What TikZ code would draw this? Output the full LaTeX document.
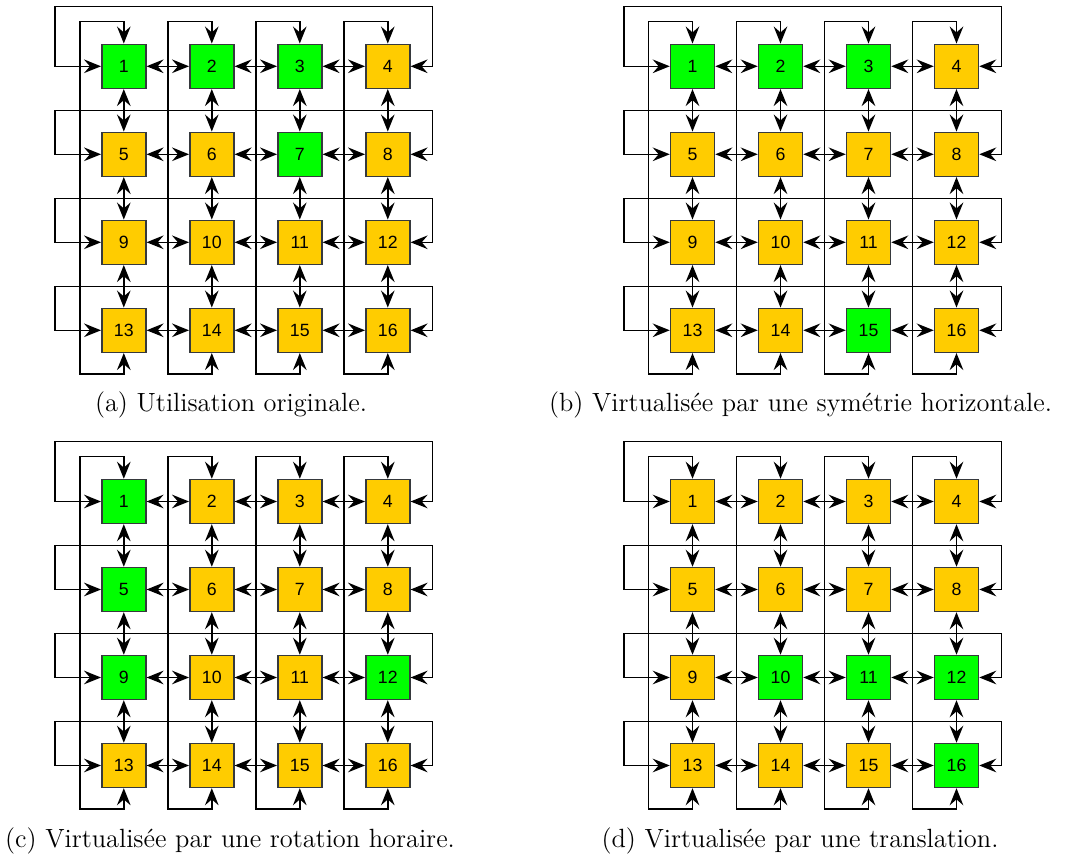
\documentclass[tikz,border=0pt]{standalone}
\usepackage{fontspec}
\newfontfamily\cellfont{Liberation Sans}
\usetikzlibrary{arrows.meta,calc,positioning}

\definecolor{ongreen}{HTML}{00FF00}
\definecolor{offorange}{HTML}{FFCC00}
\definecolor{cellline}{HTML}{36393D}

\tikzset{
  cell/.style={draw=cellline, line width=0.65pt, minimum size=19.36pt, inner sep=0pt,
    font=\cellfont\fontsize{7.8}{9}\selectfont},
  link/.style={line width=0.65pt, <->},
  caption/.style={font=\fontsize{11.6}{13}\selectfont},
}

% fill of cell #1, green when it is in the list #2
\newcommand\pickfill[2]{%
  \gdef\cellfill{offorange}%
  \foreach \g in {#2}{\ifnum\g=#1\relax\gdef\cellfill{ongreen}\fi}}

% 4x4 torus: #1 prefix, #2/#3 offset (px), #4 green cells
\newcommand\torusgrid[4]{%
  % cells
  \foreach \n in {1,...,16}{
    \pgfmathtruncatemacro\col{mod(\n-1,4)}
    \pgfmathtruncatemacro\row{div(\n-1,4)}
    \pickfill{\n}{#4}
    \node[cell, fill=\cellfill] (#1\n) at ({#2+123.8+88*\col},{#3+66.3+88*\row}) {\n};
  }
  % neighbours in a row
  \foreach \n in {1,2,3,5,6,7,9,10,11,13,14,15}{
    \pgfmathtruncatemacro\m{\n+1}
    \draw[link] (#1\n.east) -- (#1\m.west);
  }
  % neighbours in a column
  \foreach \n in {1,...,12}{
    \pgfmathtruncatemacro\m{\n+4}
    \draw[link] (#1\n.south) -- (#1\m.north);
  }
  % wrap-around, columns
  \foreach \n in {1,...,4}{
    \pgfmathtruncatemacro\m{\n+12}
    \draw[link] (#1\n.north) -- ++(0,-22) -- ++(-44,0) |- ($(#1\m.south)+(0,21)$) -- (#1\m.south);
  }
  % wrap-around, rows
  \foreach \n/\h in {1/60,5/44,9/44,13/44}{
    \pgfmathtruncatemacro\m{\n+3}
    \draw[link] (#1\m.east) -- ++(22,0) -- ++(0,-\h) -| ($(#1\n.west)+(-46,0)$) -- (#1\n.west);
  }
}

\begin{document}
\begin{tikzpicture}[x=0.44pt, y=-0.44pt, >={Stealth[length=7.5pt,width=6pt,inset=2.6pt]}]
  \useasboundingbox (0,0) rectangle (1068,856);
  % original
  \torusgrid{a}{0}{0}{1,2,3,7}
  \node[caption] (capa) at (231,405) {(a) Utilisation originale.};
  % horizontal symmetry
  \torusgrid{b}{568.7}{0}{1,2,3,15}
  \node[caption] (capb) at (800.5,405) {(b) Virtualisée par une symétrie horizontale.};
  % clockwise rotation
  \torusgrid{c}{0}{435.2}{1,5,9,12}
  \node[caption] (capc) at (230,840.5) {(c) Virtualisée par une rotation horaire.};
  % translation
  \torusgrid{d}{568.7}{435.2}{10,11,12,16}
  \node[caption] (capd) at (800,840.5) {(d) Virtualisée par une translation.};
\end{tikzpicture}
\end{document}
